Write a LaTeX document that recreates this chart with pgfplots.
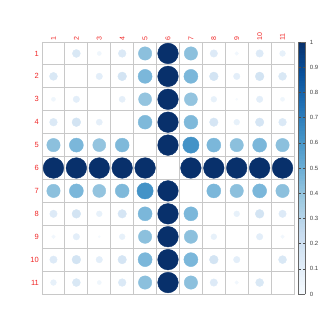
\documentclass[border=0pt]{standalone}
\usepackage{pgfplots}
\pgfplotsset{compat=1.18}
\usepackage{fontspec}
\setmainfont{Liberation Sans}
\definecolor{gridgray}{RGB}{200,200,200}
\definecolor{lblred}{RGB}{240,40,40}
\begin{document}
\begin{tikzpicture}
\begin{axis}[
  at={(42pt,38pt)}, anchor=south west,
  scale only axis, width=252pt, height=252pt,
  xmin=0.5, xmax=11.5, ymin=0.5, ymax=11.5, y dir=reverse,
  xtick={1,...,11}, ytick={1,...,11},
  xticklabel pos=upper,
  major tick length=0pt,
  minor xtick={0.5,1.5,...,11.5}, minor ytick={0.5,1.5,...,11.5},
  xminorgrids, yminorgrids,
  minor tick length=0pt,
  minor grid style={gridgray, line width=0.9pt},
  axis line style={gridgray, line width=0.9pt},
  /pgf/number format/assume math mode=true,
  xticklabel style={rotate=90, anchor=west, text=lblred, font=\fontsize{7}{8}\selectfont, inner sep=1pt},
  yticklabel style={text=lblred, font=\fontsize{7.5}{8}\selectfont, inner sep=1pt, xshift=-2pt},
  colormap={blues}{rgb255=(247,251,255) rgb255=(222,235,247) rgb255=(198,219,239) rgb255=(158,202,225) rgb255=(107,174,214) rgb255=(66,146,198) rgb255=(33,113,181) rgb255=(8,81,156) rgb255=(8,48,107)},
  point meta min=0, point meta max=1,
  colorbar sampled,
  colorbar shift/.style={xshift=4pt},
  colorbar style={
    samples=101,
    width=7pt,
    ytick={0,0.1,...,1.0001},
    yticklabel style={font=\fontsize{6}{7}\selectfont, text=black!75, /pgf/number format/fixed, /pgf/number format/assume math mode=true, xshift=1pt},
    major tick length=2.5pt,
    tick style={black!70},
    axis line style={black!60},
    y dir=normal,
  },
]
\addplot[scatter, only marks, mark=*, point meta=explicit,
  scatter/use mapped color={draw=mapped color, fill=mapped color},
  visualization depends on={sqrt(\thisrow{v})*10.31 \as \rad},
  scatter/@pre marker code/.append style={/tikz/mark size=\rad pt}]
  table[x=x, y=y, meta=v] {
x y v
2 1 .15
3 1 .04
4 1 .14
5 1 .42
6 1 1
7 1 .42
8 1 .13
9 1 .03
10 1 .13
11 1 .08
1 2 .15
3 2 .10
4 2 .18
5 2 .46
6 2 1
7 2 .46
8 2 .18
9 2 .10
10 2 .18
11 2 .15
1 3 .04
2 3 .10
4 3 .09
5 3 .40
6 3 1
7 3 .40
8 3 .08
9 3 .01
10 3 .10
11 3 .04
1 4 .14
2 4 .18
3 4 .09
5 4 .45
6 4 1
7 4 .45
8 4 .17
9 4 .08
10 4 .17
11 4 .14
1 5 .42
2 5 .46
3 5 .40
4 5 .45
6 5 1
7 5 .62
8 5 .46
9 5 .42
10 5 .46
11 5 .42
1 6 1
2 6 1
3 6 1
4 6 1
5 6 1
7 6 1
8 6 1
9 6 1
10 6 1
11 6 1
1 7 .42
2 7 .46
3 7 .40
4 7 .45
5 7 .62
6 7 1
8 7 .46
9 7 .42
10 7 .46
11 7 .42
1 8 .13
2 8 .18
3 8 .08
4 8 .17
5 8 .46
6 8 1
7 8 .46
9 8 .08
10 8 .18
11 8 .13
1 9 .03
2 9 .10
3 9 .01
4 9 .08
5 9 .42
6 9 1
7 9 .42
8 9 .08
10 9 .10
11 9 .03
1 10 .13
2 10 .18
3 10 .10
4 10 .17
5 10 .46
6 10 1
7 10 .46
8 10 .18
9 10 .10
11 10 .15
1 11 .08
2 11 .15
3 11 .04
4 11 .14
5 11 .42
6 11 1
7 11 .42
8 11 .13
9 11 .03
10 11 .15
};
\end{axis}
\pgfresetboundingbox
\path (0pt,0pt) rectangle (332pt,332pt);
\end{tikzpicture}
\end{document}
